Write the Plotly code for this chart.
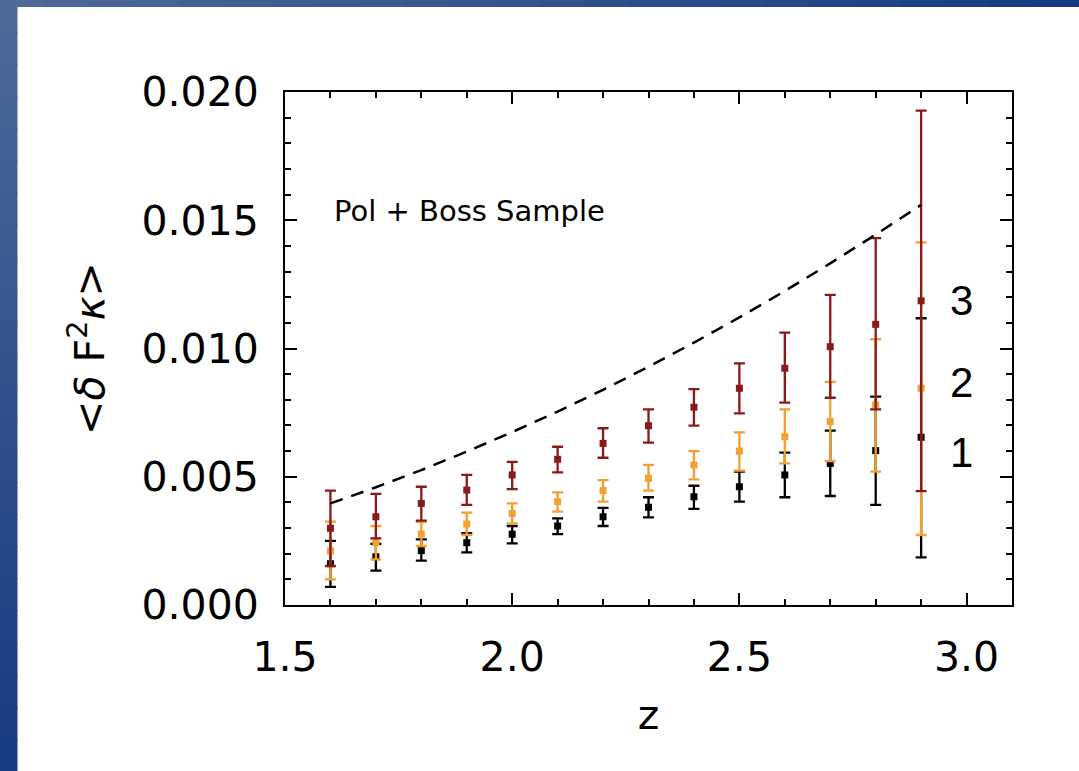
import plotly.graph_objects as go

# ---- data ----
z = [1.6, 1.7, 1.8, 1.9, 2.0, 2.1, 2.2, 2.3, 2.4, 2.5, 2.6, 2.7, 2.8, 2.9]

s3_val = [0.00299, 0.00344, 0.00396, 0.00448, 0.00507, 0.00568, 0.00630, 0.00699, 0.00771, 0.00845, 0.00923, 0.01007, 0.01094, 0.01186]
s3_hi = [0.00446, 0.00433, 0.00461, 0.00507, 0.00558, 0.00617, 0.00689, 0.00763, 0.00842, 0.00942, 0.01062, 0.01209, 0.01430, 0.01927]
s3_lo = [0.00152, 0.00260, 0.00329, 0.00390, 0.00452, 0.00517, 0.00574, 0.00633, 0.00699, 0.00747, 0.00789, 0.00808, 0.00763, 0.00444]

s2_val = [0.00211, 0.00243, 0.00277, 0.00316, 0.00357, 0.00403, 0.00446, 0.00494, 0.00546, 0.00600, 0.00656, 0.00715, 0.00780, 0.00845]
s2_hi = [0.00325, 0.00308, 0.00324, 0.00360, 0.00396, 0.00439, 0.00487, 0.00546, 0.00600, 0.00673, 0.00763, 0.00870, 0.01036, 0.01414]
s2_lo = [0.00100, 0.00178, 0.00230, 0.00273, 0.00318, 0.00364, 0.00403, 0.00446, 0.00490, 0.00524, 0.00552, 0.00561, 0.00520, 0.00273]

s1_val = [0.00161, 0.00188, 0.00212, 0.00243, 0.00276, 0.00308, 0.00344, 0.00381, 0.00422, 0.00461, 0.00507, 0.00552, 0.00602, 0.00654]
s1_hi = [0.00250, 0.00238, 0.00256, 0.00280, 0.00308, 0.00338, 0.00379, 0.00420, 0.00465, 0.00520, 0.00594, 0.00680, 0.00812, 0.01118]
s1_lo = [0.00071, 0.00134, 0.00173, 0.00205, 0.00240, 0.00276, 0.00308, 0.00342, 0.00375, 0.00403, 0.00420, 0.00425, 0.00390, 0.00186]

dashed = [0.00396, 0.00459, 0.00526, 0.00598, 0.00674, 0.00754, 0.00839, 0.00929, 0.01023, 0.01121, 0.01224, 0.01332, 0.01444, 0.01560]

x_ticks = [1.5, 2.0, 2.5, 3.0]
x_ticktext = ["1.5", "2.0", "2.5", "3.0"]
y_ticks = [0.0, 0.005, 0.010, 0.015, 0.020]
y_ticktext = ["0.000", "0.005", "0.010", "0.015", "0.020"]

series_labels = ["3", "2", "1"]
series_label_y = [0.01189, 0.00866, 0.00593]

BLACK = "#000000"
ORANGE = "#f3a030"
RED = "#8a1a1a"

fig = go.Figure()


def add_series(vals, hi, lo, color, name):
    plus = [h - v for h, v in zip(hi, vals)]
    minus = [v - l for v, l in zip(vals, lo)]
    fig.add_trace(go.Scatter(
        x=z, y=vals, mode="markers", name=name,
        marker=dict(symbol="square", size=7, color=color),
        error_y=dict(type="data", symmetric=False, array=plus, arrayminus=minus,
                     color=color, thickness=2.3, width=5.5),
        showlegend=False,
    ))


add_series(s1_val, s1_hi, s1_lo, BLACK, "1")
add_series(s2_val, s2_hi, s2_lo, ORANGE, "2")
add_series(s3_val, s3_hi, s3_lo, RED, "3")

fig.add_trace(go.Scatter(
    x=z, y=dashed, mode="lines",
    line=dict(color="black", width=2.5, dash="13px,9px"),
    showlegend=False,
))

# background: slide frame (blue gradient strips) + white page
shapes = []
W, H = 1079, 771
L, R, T, B = 285, 1012, 92, 605


def px2paper_x(px):
    return (px - L) / (R - L)


def px2paper_y(py):
    return (B - py) / (B - T)


def mix(c1, c2, t):
    return "rgb(%d,%d,%d)" % tuple(round(a + (b - a) * t) for a, b in zip(c1, c2))


c_tl = (78, 106, 152)
c_end = (20, 58, 130)
n = 24
for i in range(n):
    y0 = H * i / n
    y1 = H * (i + 1) / n + 1
    shapes.append(dict(type="rect", xref="paper", yref="paper", layer="below",
                       x0=px2paper_x(-5), x1=px2paper_x(17.5),
                       y0=px2paper_y(y1), y1=px2paper_y(y0),
                       fillcolor=mix(c_tl, c_end, (i + 0.5) / n), line=dict(width=0)))
    x0 = W * i / n
    x1 = W * (i + 1) / n + 1
    shapes.append(dict(type="rect", xref="paper", yref="paper", layer="below",
                       x0=px2paper_x(x0), x1=px2paper_x(x1),
                       y0=px2paper_y(7), y1=px2paper_y(-5),
                       fillcolor=mix(c_tl, c_end, (i + 0.5) / n), line=dict(width=0)))

annotations = [
    dict(x=1.603, y=0.01536, xref="x", yref="y", text="Pol + Boss Sample",
         showarrow=False, xanchor="left", yanchor="middle",
         font=dict(family="DejaVu Sans", size=29, color="black")),
]
for lab, yy in zip(series_labels, series_label_y):
    annotations.append(dict(x=2.988, y=yy, xref="x", yref="y", text=lab,
                            showarrow=False, xanchor="center", yanchor="middle",
                            font=dict(family="Liberation Sans", size=42, color="black")))

fig.update_layout(
    width=W, height=H,
    margin=dict(l=L, r=W - R, t=T, b=H - B),
    paper_bgcolor="white",
    plot_bgcolor="white",
    shapes=shapes,
    annotations=annotations,
    font=dict(family="DejaVu Sans", size=41, color="black"),
)

fig.update_xaxes(
    range=[1.5, 3.1], tickvals=x_ticks, ticktext=x_ticktext,
    ticks="inside", ticklen=12, tickwidth=2, tickcolor="black",
    showline=True, linewidth=2, linecolor="black", mirror="ticks",
    showgrid=False, zeroline=False,
    ticklabelstandoff=15,
    minor=dict(dtick=0.1, ticks="inside", ticklen=6, tickwidth=2, tickcolor="black", showgrid=False),
    title=dict(text="z", font=dict(family="DejaVu Sans", size=41), standoff=20),
)
fig.update_yaxes(
    range=[0, 0.020], tickvals=y_ticks, ticktext=y_ticktext,
    ticks="inside", ticklen=12, tickwidth=2, tickcolor="black",
    showline=True, linewidth=2, linecolor="black", mirror="ticks",
    showgrid=False, zeroline=False,
    ticklabelstandoff=16,
    minor=dict(dtick=0.001, ticks="inside", ticklen=6, tickwidth=2, tickcolor="black", showgrid=False),
    title=dict(text="&lt;<i>δ</i> F<sup>2</sup><i>κ</i>&gt;", font=dict(family="DejaVu Sans", size=41), standoff=24),
)

fig.write_html("out.html")
